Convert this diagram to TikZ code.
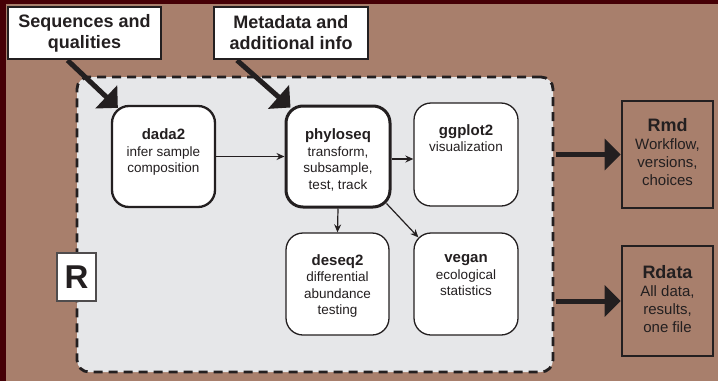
\documentclass[tikz,border=0pt]{standalone}
\usepackage{fontspec}
\setmainfont{Liberation Sans}
\usepackage{tikz}
\usetikzlibrary{positioning,arrows.meta}
\definecolor{frame}{RGB}{70,0,6}
\definecolor{bgbrown}{RGB}{168,127,108}
\definecolor{rgray}{RGB}{230,231,233}
\definecolor{ink}{RGB}{35,31,32}
\tikzstyle{tool}     = [draw=ink, fill=white, rounded corners=17pt, line width=1.3pt, inner sep=0pt]
\tikzstyle{inbox}    = [draw=ink, fill=white, line width=2.5pt, inner sep=0pt, align=center, text=ink, font=\fontsize{18}{21}\selectfont\bfseries]
\tikzstyle{outbox}   = [draw=ink, line width=2.7pt, inner sep=0pt]
\tikzstyle{desc}     = [align=center, inner sep=0pt, text=ink, font=\fontsize{13.5}{16.5}\selectfont]
\tikzstyle{outdesc}  = [desc, font=\fontsize{15}{18}\selectfont]
\tikzstyle{arrow}    = [line width=1.2pt, draw=ink, -{Stealth[length=8pt,width=7pt]}]
\tikzstyle{bigarrow} = [line width=5pt, draw=ink, -{Triangle[length=16pt,width=31pt]}]
\begin{document}
\begin{tikzpicture}[x=1pt,y=-1pt]
		\useasboundingbox (0,0) rectangle (718,381);
		\fill[frame] (0,0) rectangle (718,381);
		\fill[bgbrown] (6,4) rectangle (718,381);

		\node[draw=ink, fill=rgray, dash pattern=on 9pt off 6pt, line width=2.8pt, rounded corners=12pt, minimum width=476pt, minimum height=295pt] (rwork) at (315,224.5) {};
		\node[draw=ink!80, fill=white, line width=1.3pt, minimum width=39pt, minimum height=48pt, inner sep=0pt, text=ink, font=\fontsize{33}{33}\selectfont\bfseries] (rlang) at (76.5,277) {R};

		\node[inbox, minimum width=153pt, minimum height=52pt] (seq) at (84.5,33) {Sequences and\\qualities};
		\node[inbox, minimum width=154pt, minimum height=52pt] (meta) at (291,33) {Metadata and\\additional info};

		\node[tool, line width=2.3pt, minimum width=103pt, minimum height=101pt] (dada) at (163.5,156.5) {};
		\node[tool, line width=3pt, minimum width=104pt, minimum height=101pt] (phylo) at (338,156.5) {};
		\node[tool, minimum width=104pt, minimum height=103pt] (gg) at (466,154.5) {};
		\node[tool, minimum width=103pt, minimum height=102pt] (deseq) at (337.5,284) {};
		\node[tool, minimum width=104pt, minimum height=102pt] (vegan) at (466,284) {};

		\node[desc, below=24pt of dada.north] (dadatxt) {{\fontsize{15}{16.5}\selectfont\bfseries dada2}\\infer sample\\composition};
		\node[desc, below=24pt of phylo.north] (phylotxt) {{\fontsize{15}{16.5}\selectfont\bfseries phyloseq}\\transform,\\subsample,\\test, track};
		\node[desc, below=22pt of gg.north] (ggtxt) {{\fontsize{15}{16.5}\selectfont\bfseries ggplot2}\\visualization};
		\node[desc, below=22pt of deseq.north] (deseqtxt) {{\fontsize{15}{16.5}\selectfont\bfseries deseq2}\\differential\\abundance\\testing};
		\node[desc, below=22pt of vegan.north] (vegantxt) {{\fontsize{15}{16.5}\selectfont\bfseries vegan}\\ecological\\statistics};

		\node[outbox, minimum width=91pt, minimum height=107pt] (rmd) at (667.5,154.5) {};
		\node[outbox, minimum width=91pt, minimum height=110pt] (rdata) at (667.5,301) {};
		\node[outdesc, below=19pt of rmd.north] (rmdtxt) {{\fontsize{18}{18}\selectfont\bfseries Rmd}\\Workflow,\\versions,\\choices};
		\node[outdesc, below=21pt of rdata.north] (rdatatxt) {{\fontsize{18}{18}\selectfont\bfseries Rdata}\\All data,\\results,\\one file};

		\draw[bigarrow] ([xshift=-17pt]seq.south) -- ([xshift=7pt,yshift=-3pt]dada.north west);
		\draw[bigarrow] ([xshift=-54pt]meta.south) -- ([xshift=6pt,yshift=-3pt]phylo.north west);

		\draw[arrow] (dada.east) -- (phylo.west);
		\draw[arrow] ([yshift=-2.5pt]phylo.east) -- ([yshift=-2.5pt]phylo.east -| gg.west);
		\draw[arrow] (phylo.south) -- (deseq.north);
		\draw[arrow] ([xshift=-5pt,yshift=5pt]phylo.south east) -- ([xshift=5pt,yshift=-5pt]vegan.north west);

		\draw[bigarrow] ([xshift=2pt]rwork.east |- rmd.west) -- (rmd.west);
		\draw[bigarrow] ([xshift=2pt]rwork.east |- rdata.west) -- (rdata.west);
	\end{tikzpicture}
\end{document}
